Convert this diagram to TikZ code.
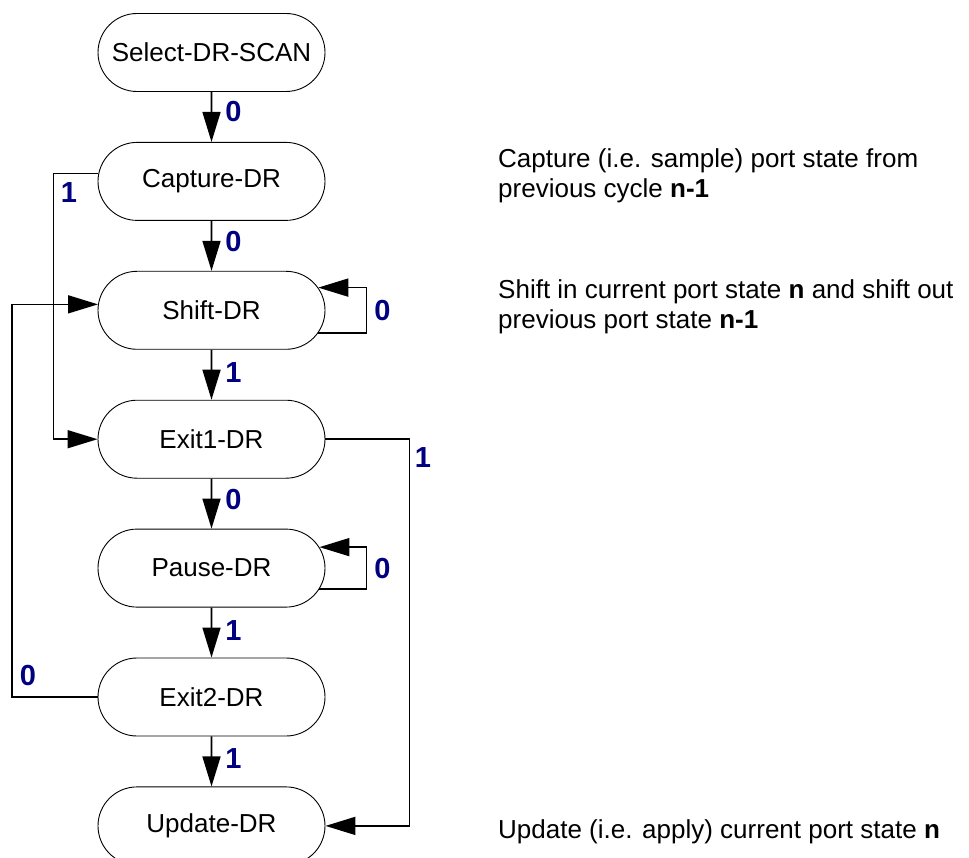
\documentclass[tikz,border=0pt]{standalone}
\usepackage{fontspec}
\setmainfont{Liberation Sans}
\usetikzlibrary{arrows.meta,positioning,shapes.misc}
\definecolor{edgeblue}{RGB}{0,0,128}

\begin{document}
\begin{tikzpicture}[
  x=1pt, y=1pt,
  node distance=50pt,
  state/.style={rounded rectangle, draw=black, line width=0.9pt,
                minimum width=227pt, minimum height=78pt, inner sep=0pt,
                font=\fontsize{26}{30}\selectfont},
  note/.style={align=left, inner sep=0pt, font=\fontsize{26}{30}\selectfont},
  lbl/.style={inner sep=0pt, text=edgeblue, font=\fontsize{29}{30}\selectfont\bfseries},
  arr/.style={-{Triangle[length=30pt, width=18pt]}, line width=1.6pt, black}
]
\useasboundingbox (0,0) rectangle (969,-858);
% states of the data register column
\node[state] (sel) at (211.5,-52.5) {Select-DR-SCAN};
\node[state, below=of sel] (cap) {Capture-DR};
\node[state, below=of cap] (shift) {Shift-DR};
\node[state, below=of shift] (exit1) {Exit1-DR};
\node[state, below=of exit1] (pause) {Pause-DR};
\node[state, below=of pause] (exit2) {Exit2-DR};
\node[state, below=of exit2] (upd) {Update-DR};
% straight transitions
\draw[arr] (sel) -- node[lbl, right=13pt, pos=0.4] (t1) {0} (cap);
\draw[arr] (cap) -- node[lbl, right=13pt, pos=0.42] (t2) {0} (shift);
\draw[arr] (shift) -- node[lbl, right=13pt, pos=0.45] (t3) {1} (exit1);
\draw[arr] (exit1) -- node[lbl, right=13pt, pos=0.42] (t4) {0} (pause);
\draw[arr] (pause) -- node[lbl, right=13pt, pos=0.45] (t5) {1} (exit2);
\draw[arr] (exit2) -- node[lbl, right=13pt, pos=0.45] (t6) {1} (upd);
% self loops
\draw[arr] (shift.-12) -| ([xshift=41pt]shift.east) node[lbl, right=7pt] (t7) {0} |- (shift.12);
\draw[arr] (pause.-11) -| ([xshift=41pt]pause.east) node[lbl, right=7pt] (t8) {0} |- (pause.11);
% long loops
\draw[arr] (cap.176) -| ([xshift=-44pt]exit1.west) -- (exit1.west);
\node[lbl] (t9) at (69,-193) {1};
\draw[arr] (exit2.west) -| ([xshift=-86pt]shift.177) -- (shift.177);
\node[lbl] (t10) at (28,-676) {0};
\draw[arr] (exit1.east) -| ([xshift=84pt]upd.east) -- (upd.east);
\node[lbl] (t11) at (423,-458) {1};
% notes
\node[note, anchor=north west] (capnote) at (498,-148)
  {Capture (i.e. sample) port state from\\previous cycle \textbf{n-1}};
\node[note, anchor=north west] (shiftnote) at (498,-279)
  {Shift in current port state \textbf{n} and shift out\\previous port state \textbf{n-1}};
\node[note, anchor=base west] (updnote) at (498,-838)
  {Update (i.e. apply) current port state \textbf{n}};
\end{tikzpicture}
\end{document}
